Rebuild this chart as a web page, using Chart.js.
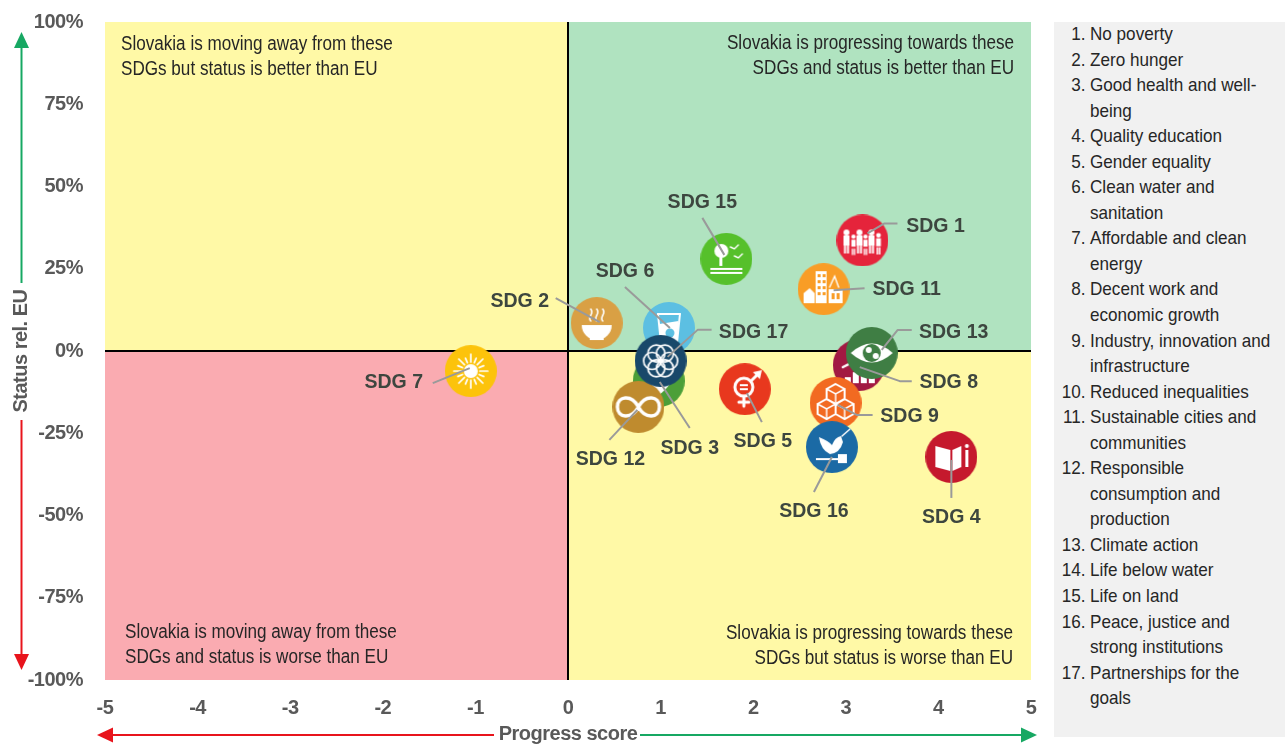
<!DOCTYPE html>
<html><head><meta charset="utf-8">
<style>
html,body{margin:0;padding:0;background:#fff;overflow:hidden}
#wrap{position:relative;width:1285px;height:746px}
canvas{position:absolute;left:0;top:0}
#panel{position:absolute;left:1054px;top:22px;width:231px;height:715px;background:#f1f1f1;overflow:hidden}
#key{transform:scaleX(.9);transform-origin:0 0;width:257px;font:19px/25.55px "Liberation Sans",sans-serif;color:#262626;margin:-1px 0 0 0}
.row{position:relative;padding-left:40px;white-space:pre-line}
.row b{position:absolute;left:0;width:35px;text-align:right;font-weight:normal}
</style></head><body>
<div id="wrap"><canvas id="c" width="1285" height="746"></canvas><div id="panel"><div id="key"></div></div></div>
<script src="https://cdn.jsdelivr.net/npm/chart.js@4"></script>
<script>
const sdgNumbers=[1,2,3,4,5,6,7,8,9,11,12,13,15,16,17];
const progressScore=[3.18,0.31,0.98,4.14,1.91,1.09,-1.05,3.14,2.89,2.76,0.76,3.28,1.71,2.85,1.0];
const statusRelEU=[33.6,8.5,-9.1,-32.2,-11.6,7,-6.1,-4.3,-15.8,18.8,-17,-0.6,28,-29.2,-3];
const sdgColors=['#E5243B','#D9A044','#4C9F38','#C5192D','#E8381E','#5CBFE2','#FCC30B','#A21942','#F26A21','#F99D26','#BF8B2E','#3F7E44','#56C02B','#1B6AA5','#19486A'];
const xTicks=[-5,-4,-3,-2,-1,0,1,2,3,4,5];
const yTicks=[-100,-75,-50,-25,0,25,50,75,100];
const goalNames=['No poverty','Zero hunger','Good health and well-\nbeing','Quality education','Gender equality','Clean water and\nsanitation','Affordable and clean\nenergy','Decent work and\neconomic growth','Industry, innovation and\ninfrastructure','Reduced inequalities','Sustainable cities and\ncommunities','Responsible\nconsumption and\nproduction','Climate action','Life below water','Life on land','Peace, justice and\nstrong institutions','Partnerships for the\ngoals'];
const quadrantNotes=[
 {x:-5,y:100,dx:16,dy:22,align:'left',lines:['Slovakia is moving away from these','SDGs but status is better than EU']},
 {x:5,y:100,dx:-17,dy:21,align:'right',lines:['Slovakia is progressing towards these','SDGs and status is better than EU']},
 {x:-5,y:-100,dx:20,dy:-48,align:'left',lines:['Slovakia is moving away from these','SDGs and status is worse than EU']},
 {x:5,y:-100,dx:-18,dy:-47,align:'right',lines:['Slovakia is progressing towards these','SDGs but status is worse than EU']}
];
/* label offsets and leader paths in pixels relative to each marker */
const callouts={
 1:{t:[73,-14],p:[[5,-7],[22,-17],[35,-17]]},
 2:{t:[-77,-22],p:[[3,-1],[-41,-25]]},
 3:{t:[31,67],p:[[1,1],[31,47]]},
 4:{t:[0,60],p:[[0,3],[0,41]]},
 5:{t:[18,52],p:[[2,4],[17,33]]},
 6:{t:[-44,-57],p:[[1,0],[-44,-41]]},
 7:{t:[-77,11],p:[[-1,-3],[-38,12]]},
 8:{t:[90,17],p:[[1,2],[41,16],[53,16]]},
 9:{t:[74,13],p:[[2,2],[21,12],[37,12]]},
 11:{t:[83,0],p:[[10,1],[41,-1]]},
 12:{t:[-28,52],p:[[-1,3],[-29,33]]},
 13:{t:[82,-21],p:[[10,-3],[26,-23],[40,-23]]},
 15:{t:[-24,-57],p:[[-2,-4],[-24,-41]]},
 16:{t:[-18,64],p:[[0,10],[-18,45]]},
 17:{t:[93,-29],p:[[7,-4],[37,-31],[51,-31]]}
};

const FONT='"Liberation Sans",sans-serif';
const W='#fff';
function disc(c,x,y,r){c.beginPath();c.arc(x,y,r,0,Math.PI*2);c.fill();}
function line(c,pts,w){c.lineWidth=w;c.beginPath();pts.forEach((p,i)=>i?c.lineTo(p[0],p[1]):c.moveTo(p[0],p[1]));c.stroke();}
const glyphs={
 1(c){[[-16,1],[-9,.7],[-3,1],[3,.7],[9,1],[16,.8]].forEach(([x,s])=>{disc(c,x,-8+(1-s)*14,3*s);c.fillRect(x-3*s,-5+(1-s)*14,6*s,10*s);c.fillRect(x-2.5*s,4+(1-s)*14,2*s,9*s);c.fillRect(x+.5*s,4+(1-s)*14,2*s,9*s);});},
 2(c){c.beginPath();c.arc(0,2,15,0,Math.PI);c.closePath();c.fill();c.fillRect(-7,15,14,2);[-6,0,6].forEach(x=>{c.beginPath();c.moveTo(x,-2);c.bezierCurveTo(x-4,-6,x+4,-9,x,-14);c.lineWidth=1.6;c.stroke();});},
 3(c){c.beginPath();c.moveTo(0,14);c.bezierCurveTo(-24,-4,-10,-16,0,-6);c.bezierCurveTo(10,-16,24,-4,0,14);c.fill();},
 4(c){c.beginPath();c.moveTo(-16,-11);c.lineTo(-1,-7);c.lineTo(-1,14);c.lineTo(-16,10);c.closePath();c.moveTo(10,-11);c.lineTo(1,-7);c.lineTo(1,14);c.lineTo(10,10);c.closePath();c.fill();c.fillRect(14,-7,3,17);disc(c,15.5,-11,2);},
 5(c){c.lineWidth=3;c.beginPath();c.arc(-1,-2,9,0,Math.PI*2);c.stroke();line(c,[[-1,7],[-1,17]],3);line(c,[[-6,13],[4,13]],3);line(c,[[6,-8],[14,-16]],3);c.beginPath();c.moveTo(8,-17);c.lineTo(17,-19);c.lineTo(15,-10);c.fill();c.fillRect(-5,-5,8,2);c.fillRect(-5,-1,8,2);},
 6(c){line(c,[[-11,-14],[-8,15],[8,15],[11,-14]],2);line(c,[[-11,-14],[11,-14]],2);c.beginPath();c.moveTo(-9.5,-4);c.lineTo(9.5,-7);c.lineTo(8,15);c.lineTo(-8,15);c.closePath();c.fill();c.fillStyle='#5CBFE2';disc(c,1,5,4.5);},
 7(c){disc(c,0,0,7);c.lineWidth=1.7;for(let i=0;i<16;i++){const a=i*Math.PI/8,r=i%2?14:17;line(c,[[9*Math.cos(a),9*Math.sin(a)],[r*Math.cos(a),r*Math.sin(a)]],1.7);}},
 8(c){[[-14,6],[-6,11],[2,15],[10,20]].forEach(([x,h])=>c.fillRect(x,18-h,6,h));line(c,[[-16,2],[-4,-4],[3,0],[15,-14]],2.5);},
 9(c){[[0,-10],[-9,5],[9,5]].forEach(([x,y])=>{c.beginPath();c.moveTo(x,y-9);c.lineTo(x+9,y-4);c.lineTo(x+9,y+6);c.lineTo(x,y+11);c.lineTo(x-9,y+6);c.lineTo(x-9,y-4);c.closePath();c.lineWidth=2;c.stroke();line(c,[[x-9,y-4],[x,y+1],[x+9,y-4]],1.5);line(c,[[x,y+1],[x,y+11]],1.5);});},
 11(c){c.fillRect(-8,-18,11,32);c.fillRect(5,0,14,14);c.beginPath();c.moveTo(-20,14);c.lineTo(-20,4);c.lineTo(-14,-1);c.lineTo(-9,4);c.lineTo(-9,14);c.fill();line(c,[[6,-2],[11,-13],[15,-2]],1.4);c.fillStyle='#F99D26';for(let i=0;i<4;i++)for(let j=0;j<2;j++)c.fillRect(-6+j*5,-15+i*6,3,3);for(let j=0;j<2;j++)c.fillRect(8+j*5,4,3,6);},
 12(c){c.lineWidth=3.5;c.beginPath();c.moveTo(0,0);c.bezierCurveTo(7,-13,21,-11,21,0);c.bezierCurveTo(21,11,7,13,0,0);c.bezierCurveTo(-7,-13,-21,-11,-21,0);c.bezierCurveTo(-21,11,-7,13,0,0);c.stroke();},
 13(c){c.beginPath();c.moveTo(-21,0);c.quadraticCurveTo(0,-19,21,0);c.quadraticCurveTo(0,19,-21,0);c.fill();c.fillStyle='#3F7E44';disc(c,0,0,9);c.fillStyle=W;disc(c,-3,-3,3);disc(c,4,3,3);},
 15(c){disc(c,-5,-8,7);c.fillRect(-7,-4,3,11);c.fillRect(-16,9,32,2);c.fillRect(-16,13,32,2);line(c,[[4,-12],[8,-10],[12,-14]],1.4);line(c,[[8,-3],[12,-1],[16,-5]],1.4);},
 16(c){c.beginPath();c.moveTo(-13,-10);c.quadraticCurveTo(-3,-6,0,-2);c.quadraticCurveTo(3,-10,9,-11);c.lineTo(11,-5);c.quadraticCurveTo(8,6,-2,7);c.quadraticCurveTo(-11,3,-13,-10);c.fill();line(c,[[10,-11],[18,-18]],1.5);c.fillRect(-16,11,24,2);c.fillRect(6,7,9,9);},
 17(c){c.lineWidth=1.7;for(let i=0;i<6;i++){const a=i*Math.PI/3;c.beginPath();c.arc(8.5*Math.cos(a),8.5*Math.sin(a),8.5,0,Math.PI*2);c.stroke();}}
};
function badge(n,color){
 const s=document.createElement('canvas');s.width=s.height=52;
 const c=s.getContext('2d');c.fillStyle=color;c.beginPath();c.arc(26,26,26,0,Math.PI*2);c.fill();
 c.translate(26,26);c.fillStyle=W;c.strokeStyle=W;c.lineCap='round';glyphs[n](c);
 return s;
}
function squeezed(ctx,text,x,y,sx){ctx.save();ctx.translate(x,y);ctx.scale(sx,1);ctx.letterSpacing='0px';ctx.fillText(text,0,0);ctx.restore();}

const key=document.getElementById('key');
goalNames.forEach((g,i)=>{const r=document.createElement('div');r.className='row';const b=document.createElement('b');b.textContent=(i+1)+'.';r.appendChild(b);r.appendChild(document.createTextNode(g));key.appendChild(r);});

const quadrants={id:'quadrants',beforeDraw(ch){ch.ctx.letterSpacing='-0.5px';},beforeDatasetsDraw(ch){
 const {ctx,scales:{x,y}}=ch;
 const x0=x.getPixelForValue(-5),xm=x.getPixelForValue(0),x1=x.getPixelForValue(5);
 const y0=y.getPixelForValue(100),ym=y.getPixelForValue(0),y1=y.getPixelForValue(-100);
 ctx.save();
 ctx.fillStyle='#FFF9A6';ctx.fillRect(x0,y0,xm-x0,ym-y0);ctx.fillRect(xm,ym,x1-xm,y1-ym);
 ctx.fillStyle='#B0E3C0';ctx.fillRect(xm,y0,x1-xm,ym-y0);
 ctx.fillStyle='#FAABB1';ctx.fillRect(x0,ym,xm-x0,y1-ym);
 ctx.fillStyle='#000';ctx.fillRect(xm-1,y0,2,y1-y0);ctx.fillRect(x0,ym-1,x1-x0,2);
 ctx.fillStyle='#262626';ctx.font='20px '+FONT;ctx.textBaseline='middle';
 quadrantNotes.forEach(q=>{ctx.textAlign=q.align;q.lines.forEach((l,i)=>squeezed(ctx,l,x.getPixelForValue(q.x)+q.dx,y.getPixelForValue(q.y)+q.dy+i*25,.855));});
 ctx.restore();
}};
const labelsPlugin={id:'labelsPlugin',afterDatasetsDraw(ch){
 const {ctx,scales:{x,y}}=ch;
 ctx.save();ctx.lineJoin='round';
 sdgNumbers.forEach((n,i)=>{
  const px=x.getPixelForValue(progressScore[i]),py=y.getPixelForValue(statusRelEU[i]),cfg=callouts[n];
  ctx.strokeStyle='#9a9a9a';ctx.lineWidth=2;ctx.beginPath();
  cfg.p.forEach((p,j)=>j?ctx.lineTo(px+p[0],py+p[1]):ctx.moveTo(px+p[0],py+p[1]));ctx.stroke();
  ctx.fillStyle='#3d463f';ctx.font='bold 21px '+FONT;ctx.textAlign='center';ctx.textBaseline='middle';
  squeezed(ctx,'SDG '+n,px+cfg.t[0],py+cfg.t[1],.93);
 });
 ctx.restore();
}};
const arrows={id:'arrows',afterDraw(ch){
 const ctx=ch.ctx;const g='#17A863',r='#E8141C';
 const seg=(c,x1,y1,x2,y2)=>{ctx.strokeStyle=c;ctx.lineWidth=2;ctx.beginPath();ctx.moveTo(x1,y1);ctx.lineTo(x2,y2);ctx.stroke();};
 const tri=(c,a,b,d)=>{ctx.fillStyle=c;ctx.beginPath();ctx.moveTo(...a);ctx.lineTo(...b);ctx.lineTo(...d);ctx.fill();};
 ctx.save();
 seg(g,21.5,44,21.5,283);tri(g,[21.5,32],[14,48],[29,48]);
 seg(r,21.5,420,21.5,655);tri(r,[21.5,670],[14,654],[29,654]);
 seg(r,108,735,494,735);tri(r,[97,735],[113,727.5],[113,742.5]);
 seg(g,640,735,1026,735);tri(g,[1037,735],[1021,727.5],[1021,742.5]);
 ctx.restore();
}};
const tickFont={family:FONT,size:20,weight:'bold'};
new Chart(document.getElementById('c'),{
 type:'scatter',
 data:{datasets:[{
  data:sdgNumbers.map((n,i)=>({x:progressScore[i],y:statusRelEU[i]})),
  pointStyle:sdgNumbers.map((n,i)=>badge(n,sdgColors[i])),
  pointRadius:26,pointHoverRadius:26,backgroundColor:sdgColors,borderWidth:0,clip:false
 }]},
 options:{
  responsive:false,animation:false,
  layout:{autoPadding:false,padding:{left:0,right:254,top:22,bottom:0}},
  plugins:{legend:{display:false},tooltip:{enabled:false}},
  scales:{
   x:{type:'linear',min:-5,max:5,
    afterFit(s){s.height=66;s.paddingLeft=0;s.paddingRight=0;},
    afterBuildTicks(s){s.ticks=xTicks.map(v=>({value:v}));},
    grid:{display:false},border:{display:false},
    ticks:{font:tickFont,color:'#595959',padding:8,maxRotation:0,autoSkip:false},
    title:{display:true,text:'Progress score',font:tickFont,color:'#595959',padding:0}},
   y:{type:'linear',min:-100,max:100,
    afterFit(s){s.width=105;s.paddingTop=0;s.paddingBottom=0;},
    afterBuildTicks(s){s.ticks=yTicks.map(v=>({value:v}));},
    grid:{display:false},border:{display:false},
    ticks:{font:tickFont,color:'#595959',padding:14,autoSkip:false,callback:v=>v+'%'},
    title:{display:true,text:'Status rel. EU',font:tickFont,color:'#595959',padding:{top:9,bottom:0}}}
  }
 },
 plugins:[quadrants,labelsPlugin,arrows]
});
</script>
</body></html>
